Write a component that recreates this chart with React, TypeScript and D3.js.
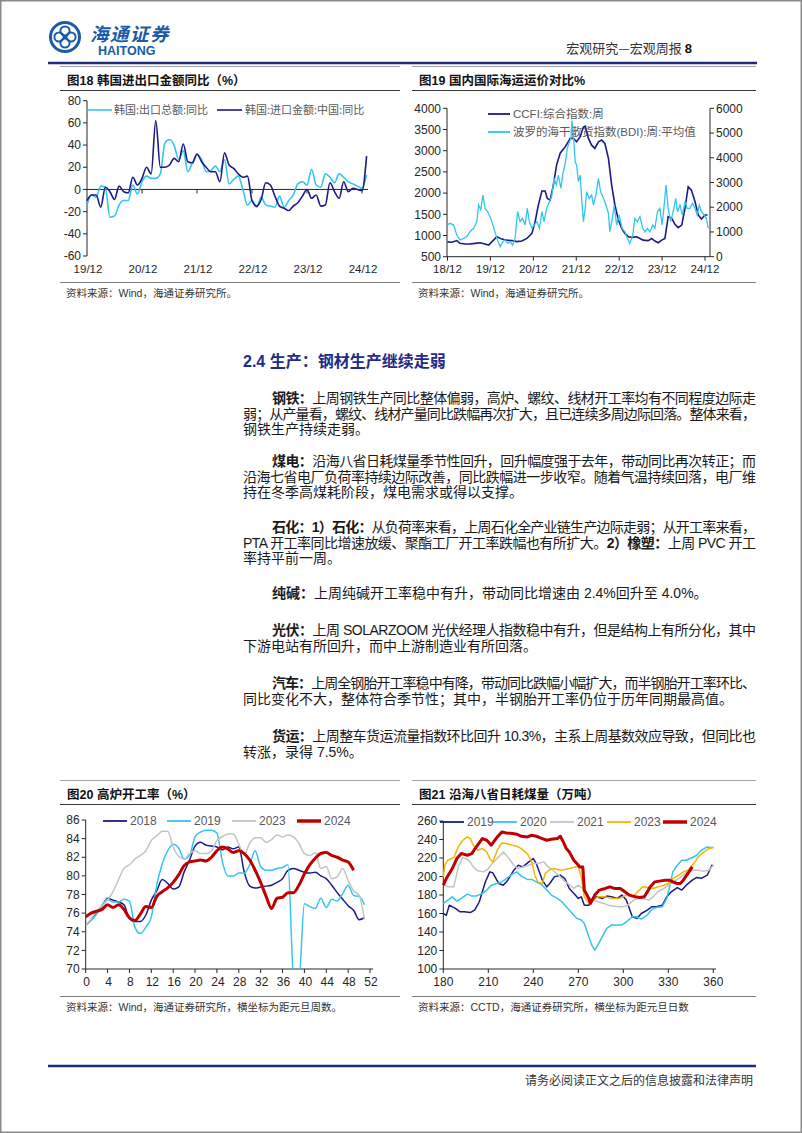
import * as d3 from "d3";

const LAT = "'Liberation Sans', 'Noto Sans CJK SC', sans-serif";
const CJK = "'Noto Sans CJK SC', sans-serif";
const AX = "#262626";
const LBL = "#262626";
const NAVY = "#1c1a86";
const CYAN = "#33c5f0";
const GRAY = "#c4c4c4";
const RED = "#c00000";
const GOLD = "#f7b500";
const BLUE_CORP = "#1a5aa8";

// ---- 图18 韩国进出口金额同比 (monthly, from 2019-12)
const krTicks = ["19/12", "20/12", "21/12", "22/12", "23/12", "24/12"];
const krExportYoy = [
  -14, -5, -7, 3, 2, -25, -24, -14, -10, -10,
  4, -4, 7, 12, 10, 10, 14, 42, 45, 40,
  27, 35, 16, 24, 31, 27, 16, 17, 21, 16,
  27, 5, 9, 12, 0, -14, -10, -16, -7, -14,
  -15, -16, -6, -16, -10, -5, 5, 7, 4, 18,
  4, 2, 14, 11, 6, 14, 11, 7, 5, 3,
  1, 13,
];
const krImportChinaYoy = [
  -10, -5, -5, -16, 2, -2, -9, 3, -2, -3,
  11, 4, 10, 20, 14, 62, 20, 20, 22, 28,
  25, 41, 25, 24, 32, 25, 20, 16, 16, 7,
  33, 22, 19, 14, 11, 12, -10, -15, -9, 6,
  4, -6, -15, -17, -19, -15, -12, -6, 0, -8,
  -5, -15, -14, 6, -2, -8, 7, -2, 1, 0,
  -1, 30,
];

// ---- 图19 国内国际海运运价 ([months since 2018-12, value])
const freightTicks = ["18/12", "19/12", "20/12", "21/12", "22/12", "23/12", "24/12"];
const ccfi: [number, number][] = [
  [0, 850], [1.2, 840], [2.6, 880], [3.5, 815], [4.9, 800], [6.3, 800], [7.7, 815], [9.1, 830],
  [10.5, 800], [11.5, 775], [12.4, 850], [13.8, 970], [15.2, 915], [16.6, 890], [18, 880],
  [19.4, 855], [20.8, 870], [22.2, 930], [23.6, 1050], [24.5, 1325], [25.4, 1720], [26.4, 2050],
  [27.3, 2050], [27.9, 1875], [28.7, 1835], [29.6, 2190], [30.5, 2660], [31.5, 2940], [32.6, 3055],
  [33.5, 3170], [34.3, 3290], [35.2, 3290], [36.1, 3210], [37.1, 3330], [38, 3560], [38.5, 3580],
  [39.4, 3290], [40.3, 3130], [41.2, 3055], [42.2, 3210], [43.1, 3250], [44, 3170], [45, 2820],
  [45.9, 2190], [46.8, 1720], [47.8, 1365], [48.7, 1170], [49.6, 1050], [50.6, 970], [51.5, 955],
  [52.9, 970], [53.8, 930], [54.7, 890], [56.1, 880], [57.1, 930], [58, 870], [58.9, 830],
  [59.9, 890], [60.8, 930], [61.7, 1445], [62.7, 1405], [63.6, 1265], [64.5, 1185], [65.5, 1245],
  [66.4, 1640], [67.3, 2150], [68.2, 2070], [69.2, 1800], [70.1, 1485], [71, 1390], [72, 1485],
  [72.7, 1485],
];
const bdi: [number, number][] = [
  [0, 1300], [0.7, 1350], [1.7, 1280], [2.6, 875], [3.5, 675], [4.5, 740], [5.4, 810], [6.3, 1010],
  [7.3, 1150], [8.2, 1415], [8.7, 2090], [9.3, 1890], [9.9, 2490], [10.5, 1955], [11.2, 1820],
  [11.9, 1620], [12.7, 1280], [13.4, 945], [14, 675], [14.7, 405], [15.5, 605], [16.1, 675],
  [16.9, 540], [17.5, 605], [18.2, 470], [18.9, 740], [19.6, 1820], [20.3, 1415], [21, 1550],
  [21.7, 1280], [22.3, 1955], [22.9, 1415], [23.6, 1150], [24.2, 1280], [25, 1415], [25.7, 1150],
  [26.4, 1820], [27, 1415], [27.7, 1955], [28.5, 2225], [29.1, 2425], [29.8, 3170], [30.4, 2900],
  [31, 3300], [31.7, 2765], [32.2, 3300], [32.9, 3775], [33.5, 4380], [34.1, 4650], [34.5, 4785],
  [34.8, 5500], [35.2, 4920], [35.7, 3840], [36.1, 3710], [36.6, 3035], [37.1, 3300], [37.5, 2360],
  [38, 1415], [38.5, 1955], [38.9, 2630], [39.6, 2360], [40.3, 2490], [40.8, 2090], [41.5, 2490],
  [42.2, 3170], [42.8, 2630], [43.6, 2360], [44.3, 2090], [45, 1750], [45.4, 1010], [46.1, 1550],
  [46.6, 2090], [47.3, 1280], [48, 1685], [48.8, 1150], [49.6, 1010], [50.3, 740], [51, 540],
  [51.8, 875], [52.4, 1550], [53.1, 1415], [53.8, 1620], [54.6, 1150], [55.2, 1010], [55.9, 1150],
  [56.6, 1010], [57.4, 1280], [58, 1150], [58.7, 1820], [59.4, 1955], [60, 1280], [60.5, 1955],
  [61.1, 2900], [61.7, 1955], [62.4, 1415], [63.1, 1820], [63.8, 2360], [64.3, 1820], [65, 2090],
  [65.7, 1685], [66.4, 2225], [67, 1955], [67.8, 1955], [68.5, 2160], [69.2, 1955], [69.8, 1685],
  [70.4, 2090], [71, 1820], [71.8, 1685], [72.4, 1550], [72.9, 1150],
];

// ---- 图20 高炉开工率 (by week of year)
const weekTicks = [0, 4, 8, 12, 16, 20, 24, 28, 32, 36, 40, 44, 48, 52];
const furnace2018 = [
  74.7, 75.3, 76.1, 76.8, 77.6, 77.4, 77.2, 76.9, 75.4, 75.1,
  75.1, 75.8, 77.4, 78.4, 79.6, 79.2, 78.6, 78.8, 80.4, 81.7,
  83.2, 83.6, 83.3, 83.2, 83.1, 82.8, 83.1, 82.9, 83.1, 80.4,
  78.9, 78.7, 78.8, 78.9, 79.0, 79.3, 79.7, 80.6, 80.8, 80.6,
  80.4, 80.3, 80.4, 80.0, 79.7, 79.0, 78.2, 77.5, 76.8, 76.3,
  75.3, 75.5,
];
const furnace2019 = [
  74.7, 75.2, 75.9, 76.9, 77.5, 77.2, 77.2, 77.5, 77.3, 74.5,
  73.8, 74.5, 75.6, 79.0, 81.3, 82.7, 83.4, 83.0, 81.8, 82.2,
  84.2, 84.7, 84.9, 84.9, 84.6, 81.5, 80.0, 80.0, 80.3, 80.3,
  81.2, 82.7, 81.0, 80.6, 80.6, 80.8, 80.9, 81.2, 69.5, 69.0,
  77.0, 76.7, 76.5, 77.6, 76.6, 77.5, 77.3, 78.1, 79.0, 77.9,
  77.8, 76.9,
];
const furnace2023 = [
  74.7, 75.4, 76.2, 76.8, 77.4, 78.3, 79.6, 80.8, 81.2, 81.8,
  82.2, 82.7, 83.8, 84.3, 84.8, 84.8, 83.1, 82.1, 81.8, 82.4,
  82.7, 82.4, 82.4, 82.7, 83.8, 84.2, 84.5, 84.5, 83.4, 82.3,
  83.5, 84.1, 84.1, 83.6, 83.9, 84.4, 84.2, 84.4, 84.2, 83.5,
  82.4, 82.2, 82.5, 80.8, 81.0, 79.7, 79.9, 80.8, 79.5, 78.4,
  77.9, 75.3,
];
const furnace2024 = [
  75.6, 76.0, 76.2, 76.4, 76.9, 76.6, 76.9, 76.4, 75.5, 75.2,
  75.9, 76.7, 76.6, 77.8, 78.3, 78.7, 79.3, 80.1, 81.1, 81.5,
  81.6, 81.7, 81.6, 82.0, 82.7, 83.1, 82.9, 82.5, 82.7, 82.4,
  81.7, 80.6, 79.3, 77.8, 76.5, 77.6, 77.7, 78.2, 78.2, 79.0,
  80.2, 81.2, 81.9, 82.4, 82.5, 82.2, 82.0, 81.7, 81.5, 80.6,
];

// ---- 图21 沿海八省日耗煤量 ([day of year, 万吨])
const dayTicks = [180, 210, 240, 270, 300, 330, 360];
const coal2019: [number, number][] = [
  [180, 160], [182, 158], [184, 169], [188, 165.5], [191, 162], [194, 162], [198, 161], [201, 164],
  [204, 172.7], [208, 194], [211, 205], [213, 204], [217, 192.4], [220, 190.6], [223, 196],
  [227, 206.8], [230, 212.2], [233, 210.4], [237, 215.8], [240, 219.4], [242, 214], [246, 196],
  [249, 188.8], [251, 192.4], [254, 199.6], [258, 201.4], [261, 197.8], [264, 187], [268, 180],
  [270, 176.3], [272, 178], [274, 169], [277, 169], [279, 172.7], [282, 178], [286, 176.3],
  [289, 178.8], [292, 178], [296, 176.3], [299, 179.9], [302, 174.5], [306, 156.5], [309, 154.7],
  [312, 160], [316, 163.7], [319, 167.3], [322, 167.3], [326, 169], [329, 178], [332, 183.5],
  [336, 188], [339, 185.3], [342, 190.6], [346, 196], [349, 199], [352, 198], [356, 201.4],
  [359, 212.2], [360, 211.5],
];
const coal2020: [number, number][] = [
  [180, 170.9], [183, 174.5], [186, 178], [189, 173.4], [192, 176.3], [196, 181], [199, 178.8],
  [202, 178.8], [206, 181.7], [209, 185.3], [212, 190.6], [216, 192.4], [219, 194.2], [222, 197.8],
  [226, 202.5], [229, 205], [232, 200.4], [236, 196.8], [239, 196.8], [242, 194.2], [246, 190.6],
  [249, 185.3], [252, 179.9], [256, 176.3], [259, 172.7], [262, 167.3], [266, 160], [269, 154.7],
  [272, 152.9], [274, 149.3], [277, 134.9], [279, 125.9], [281, 120.5], [283, 125.9], [286, 134.9],
  [289, 143.9], [292, 147.5], [296, 147.5], [299, 147.5], [302, 151], [306, 156.5], [309, 156.5],
  [312, 154], [316, 158.3], [319, 164.4], [322, 166.5], [326, 167.3], [329, 176.3], [331, 190],
  [333, 205], [336, 212.2], [339, 217.6], [342, 217.6], [346, 220.5], [349, 223], [352, 228.4],
  [356, 232], [358, 231.3], [360, 231.3],
];
const coal2021: [number, number][] = [
  [180, 192.4], [183, 188.8], [187, 188.8], [190, 210.4], [193, 220.5], [197, 217.6], [200, 210.4],
  [203, 206.1], [207, 205], [210, 208.6], [213, 214.7], [217, 221.2], [220, 226.6], [223, 221.2],
  [227, 212.2], [230, 208.6], [233, 210.4], [237, 212.2], [240, 214], [243, 214], [247, 215.8],
  [250, 210.4], [253, 206.8], [257, 201.4], [260, 196], [263, 192.4], [267, 187.1], [270, 190.6],
  [273, 187.1], [277, 178], [280, 174.5], [283, 172.7], [287, 170.9], [290, 169], [293, 168],
  [297, 167.3], [300, 167.3], [303, 169], [307, 174.5], [310, 176.3], [313, 176.3], [317, 174.5],
  [320, 178], [323, 183.5], [327, 187], [330, 190.6], [333, 194.2], [337, 197.8], [340, 201.4],
  [343, 205], [347, 206.8], [350, 206.8], [353, 205.8], [357, 206.8], [360, 212.2],
];
const coal2023: [number, number][] = [
  [180, 199.6], [181, 212], [183, 217.6], [187, 220.5], [190, 232], [193, 239.2], [196, 242.8],
  [198, 241], [200, 233.8], [203, 228.4], [206, 230.2], [209, 226.6], [211, 219.4], [213, 215.8],
  [216, 228.4], [219, 236.3], [222, 235.6], [226, 233.8], [229, 232.7], [232, 230.2], [236, 224.8],
  [239, 215.8], [241, 201.4], [243, 194.2], [246, 192.4], [248, 203.2], [251, 207.6], [254, 208.6],
  [258, 206.8], [261, 207.6], [264, 208.6], [268, 210.4], [270, 210.4], [272, 199.6], [274, 178],
  [277, 170.9], [280, 174.5], [283, 178], [287, 178], [290, 177.3], [293, 176.3], [297, 176.3],
  [300, 178], [303, 181], [307, 178.8], [310, 184.5], [313, 188.8], [317, 188], [320, 187.1],
  [323, 188.8], [327, 190.6], [330, 192.4], [333, 197.8], [337, 201.4], [340, 205], [343, 206.8],
  [347, 214], [350, 221.2], [353, 225.5], [357, 230.2], [360, 231.3],
];
const coal2024: [number, number][] = [
  [180, 190.6], [182, 197.8], [186, 208.6], [189, 219.4], [192, 224.8], [196, 223], [199, 224.8],
  [202, 232], [206, 241], [209, 239.2], [212, 233.8], [216, 242.8], [219, 248.2], [222, 247.1],
  [226, 246.4], [229, 245.7], [232, 243.5], [236, 242.8], [239, 244.6], [242, 243.5], [246, 241],
  [249, 239.2], [252, 240.3], [256, 241], [258, 243.5], [260, 237.4], [262, 230.2], [264, 226.6],
  [267, 217.6], [269, 214], [271, 210.4], [273, 210.4], [274, 185.3], [277, 176.3], [278, 170.9],
  [281, 179.9], [284, 185.3], [288, 187.1], [291, 188.8], [294, 187.1], [298, 187.1], [301, 183.5],
  [304, 179.9], [308, 178.1], [311, 177.3], [314, 178.1], [318, 188.8], [321, 194.2], [324, 195],
  [328, 196], [331, 196], [333, 194.2], [336, 192.4], [338, 192.4], [340, 196], [343, 203.2],
  [346, 210.4],
];

type Seg = string | { b: string };
const paragraphs: { y: number; lines: Seg[][] }[] = [
  { y: 398, lines: [
    [{ b: "钢铁：" }, "上周钢铁生产同比整体偏弱，高炉、螺纹、线材开工率均有不同程度边际走"],
    ["弱；从产量看，螺纹、线材产量同比跌幅再次扩大，且已连续多周边际回落。整体来看，"],
    ["钢铁生产持续走弱。"],
  ] },
  { y: 461, lines: [
    [{ b: "煤电：" }, "沿海八省日耗煤量季节性回升，回升幅度强于去年，带动同比再次转正；而"],
    ["沿海七省电厂负荷率持续边际改善，同比跌幅进一步收窄。随着气温持续回落，电厂维"],
    ["持在冬季高煤耗阶段，煤电需求或得以支撑。"],
  ] },
  { y: 527, lines: [
    [{ b: "石化：1）石化：" }, "从负荷率来看，上周石化全产业链生产边际走弱；从开工率来看，"],
    ["PTA 开工率同比增速放缓、聚酯工厂开工率跌幅也有所扩大。", { b: "2）橡塑：" }, "上周 PVC 开工"],
    ["率持平前一周。"],
  ] },
  { y: 593, lines: [
    [{ b: "纯碱：" }, "上周纯碱开工率稳中有升，带动同比增速由 2.4%回升至 4.0%。"],
  ] },
  { y: 630, lines: [
    [{ b: "光伏：" }, "上周 SOLARZOOM 光伏经理人指数稳中有升，但是结构上有所分化，其中"],
    ["下游电站有所回升，而中上游制造业有所回落。"],
  ] },
  { y: 683, lines: [
    [{ b: "汽车：" }, "上周全钢胎开工率稳中有降，带动同比跌幅小幅扩大，而半钢胎开工率环比、"],
    ["同比变化不大，整体符合季节性；其中，半钢胎开工率仍位于历年同期最高值。"],
  ] },
  { y: 736, lines: [
    [{ b: "货运：" }, "上周整车货运流量指数环比回升 10.3%，主系上周基数效应导致，但同比也"],
    ["转涨，录得 7.5%。"],
  ] },
];

const LINE_STEP = 15.5;
const TEXT_X0 = 243;
const TEXT_X1 = 756;
const INDENT = 29;

function Frame({ x0, x1, top, title, source }: { x0: number; x1: number; top: number; title: string; source: string }) {
  return (
    <g>
      <line x1={x0} x2={x1} y1={top + 0.5} y2={top + 0.5} stroke="#a0a0a0" strokeWidth={1} />
      <text x={x0 + 7} y={top + 18.5} fontFamily={LAT} fontWeight="bold" fontSize={12.5} fill="#111">{title}</text>
      <line x1={x0} x2={x1} y1={top + 24.5} y2={top + 24.5} stroke="#3a3a3a" strokeWidth={1} />
      <line x1={x0} x2={x1} y1={top + 216.5} y2={top + 216.5} stroke="#808080" strokeWidth={1} />
      <text x={x0 + 6} y={top + 231} fontFamily={LAT} fontSize={10.5} fill="#333">{source}</text>
    </g>
  );
}

function YAxis({ scale, ticks, x, side }: { scale: d3.ScaleLinear<number, number>; ticks: number[]; x: number; side: "left" | "right" }) {
  const [r0, r1] = scale.range();
  const dir = side === "left" ? -1 : 1;
  return (
    <g>
      <line x1={x} x2={x} y1={r0} y2={r1} stroke={AX} strokeWidth={1} />
      {ticks.map((t) => (
        <g key={t}>
          <line x1={x} x2={x + dir * 4} y1={scale(t)} y2={scale(t)} stroke={AX} strokeWidth={1} />
          <text x={x + dir * 6} y={scale(t) + 4.2} textAnchor={side === "left" ? "end" : "start"}
            fontFamily={LAT} fontSize={12} fill={LBL}>{t}</text>
        </g>
      ))}
    </g>
  );
}

function KoreaTradeChart() {
  const x = d3.scaleLinear().domain([0, 61]).range([87, 366.6]);
  const y = d3.scaleLinear().domain([-60, 80]).range([256, 100.7]);
  const line = d3.line<number>().x((_, i) => x(i)).y((d) => y(d)).curve(d3.curveMonotoneX);
  const yTicks = d3.range(-60, 81, 20);
  return (
    <g>
      <Frame x0={60} x1={400} top={66} title="图18 韩国进出口金额同比（%）" source="资料来源：Wind，海通证券研究所。" />
      <YAxis scale={y} ticks={yTicks} x={87} side="left" />
      <line x1={87} x2={368} y1={y(0)} y2={y(0)} stroke={AX} strokeWidth={1} />
      {krTicks.map((lab, i) => (
        <g key={lab}>
          {i > 0 && <line x1={x(i * 12)} x2={x(i * 12)} y1={y(0)} y2={y(0) + 4} stroke={AX} />}
          <text x={x(i * 12) + 1} y={273} textAnchor="middle" fontFamily={LAT} fontSize={11.5} fill={LBL}>{lab}</text>
        </g>
      ))}
      <line x1={88} x2={112} y1={110} y2={110} stroke={CYAN} strokeWidth={1.6} />
      <text x={114} y={114} fontFamily={CJK} fontSize={11} fill="#5a5a5a">韩国:出口总额:同比</text>
      <line x1={217} x2={242} y1={110} y2={110} stroke={NAVY} strokeWidth={1.6} />
      <text x={245} y={114} fontFamily={CJK} fontSize={11} fill="#5a5a5a">韩国:进口金额:中国:同比</text>
      <path d={line(krExportYoy) ?? ""} fill="none" stroke={CYAN} strokeWidth={1.6} />
      <path d={line(krImportChinaYoy) ?? ""} fill="none" stroke={NAVY} strokeWidth={1.6} />
    </g>
  );
}

function FreightChart() {
  const x = d3.scaleLinear().domain([0, 72]).range([447.5, 705]);
  const yL = d3.scaleLinear().domain([500, 4000]).range([256.7, 108.3]);
  const yR = d3.scaleLinear().domain([0, 6000]).range([256.7, 108.3]);
  const lineL = d3.line<[number, number]>().x((d) => x(d[0])).y((d) => yL(d[1]));
  const lineR = d3.line<[number, number]>().x((d) => x(d[0])).y((d) => yR(d[1]));
  return (
    <g>
      <Frame x0={412} x1={756} top={66} title="图19 国内国际海运运价对比%" source="资料来源：Wind，海通证券研究所。" />
      <YAxis scale={yL} ticks={d3.range(500, 4001, 500)} x={447} side="left" />
      <YAxis scale={yR} ticks={d3.range(0, 6001, 1000)} x={710} side="right" />
      <line x1={447} x2={710} y1={256.7} y2={256.7} stroke={AX} />
      {freightTicks.map((lab, i) => (
        <g key={lab}>
          <line x1={x(i * 12)} x2={x(i * 12)} y1={256.7} y2={260.7} stroke={AX} />
          <text x={x(i * 12)} y={272.5} textAnchor="middle" fontFamily={LAT} fontSize={11.5} fill={LBL}>{lab}</text>
        </g>
      ))}
      <line x1={488} x2={510} y1={114} y2={114} stroke={NAVY} strokeWidth={1.8} />
      <text x={513} y={118} fontFamily={LAT} fontSize={11.5} fill="#5a5a5a">CCFI:综合指数:周</text>
      <line x1={488} x2={510} y1={132} y2={132} stroke={CYAN} strokeWidth={1.8} />
      <text x={513} y={136} fontFamily={LAT} fontSize={11.5} fill="#5a5a5a">波罗的海干散货指数(BDI):周:平均值</text>
      <path d={lineL(ccfi) ?? ""} fill="none" stroke={NAVY} strokeWidth={1.6} />
      <path d={lineR(bdi) ?? ""} fill="none" stroke={CYAN} strokeWidth={1.3} />
    </g>
  );
}

function LegendItem({ x, y, color, width, label }: { x: number; y: number; color: string; width: number; label: string }) {
  return (
    <g>
      <line x1={x} x2={x + 24} y1={y} y2={y} stroke={color} strokeWidth={width} />
      <text x={x + 27} y={y + 4.3} fontFamily={LAT} fontSize={12} fill="#595959">{label}</text>
    </g>
  );
}

function FurnaceChart() {
  const x = d3.scaleLinear().domain([0, 52]).range([85.7, 370]);
  const y = d3.scaleLinear().domain([70, 86]).range([969, 820]);
  const line = d3.line<number>().x((_, i) => x(i)).y((d) => y(d)).curve(d3.curveMonotoneX);
  const series = [
    { label: "2018", data: furnace2018, color: NAVY, w: 1.5, lx: 103 },
    { label: "2019", data: furnace2019, color: CYAN, w: 1.5, lx: 167 },
    { label: "2023", data: furnace2023, color: GRAY, w: 1.5, lx: 232 },
    { label: "2024", data: furnace2024, color: RED, w: 3, lx: 297 },
  ];
  return (
    <g>
      <Frame x0={60} x1={400} top={780} title="图20 高炉开工率（%）" source="资料来源：Wind，海通证券研究所，横坐标为距元旦周数。" />
      <defs>
        <clipPath id="clip20"><rect x={85.7} y={812} width={300} height={157} /></clipPath>
      </defs>
      <YAxis scale={y} ticks={d3.range(70, 87, 2)} x={85.7} side="left" />
      <line x1={85.7} x2={373} y1={969} y2={969} stroke={AX} />
      {weekTicks.map((t) => (
        <g key={t}>
          <line x1={x(t)} x2={x(t)} y1={969} y2={973} stroke={AX} />
          <text x={x(t) + 1} y={986} textAnchor="middle" fontFamily={LAT} fontSize={12} fill={LBL}>{t}</text>
        </g>
      ))}
      {series.map((s) => (
        <LegendItem key={s.label} x={s.lx} y={821} color={s.color} width={s.w === 3 ? 3.5 : 1.8} label={s.label} />
      ))}
      <g clipPath="url(#clip20)">
        {series.map((s) => (
          <path key={s.label} d={line(s.data) ?? ""} fill="none" stroke={s.color} strokeWidth={s.w} />
        ))}
      </g>
    </g>
  );
}

function CoalChart() {
  const x = d3.scaleLinear().domain([180, 360]).range([443.3, 713.3]);
  const y = d3.scaleLinear().domain([100, 260]).range([969, 821]);
  const line = d3.line<[number, number]>().x((d) => x(d[0])).y((d) => y(d[1]));
  const series = [
    { label: "2019", data: coal2019, color: NAVY, w: 1.5, lx: 440 },
    { label: "2020", data: coal2020, color: CYAN, w: 1.5, lx: 493 },
    { label: "2021", data: coal2021, color: GRAY, w: 1.5, lx: 550 },
    { label: "2023", data: coal2023, color: GOLD, w: 1.5, lx: 607 },
    { label: "2024", data: coal2024, color: RED, w: 3, lx: 663 },
  ];
  return (
    <g>
      <Frame x0={412} x1={756} top={780} title="图21 沿海八省日耗煤量（万吨）" source="资料来源：CCTD，海通证券研究所，横坐标为距元旦日数" />
      <YAxis scale={y} ticks={d3.range(100, 261, 20)} x={443.3} side="left" />
      <line x1={443.3} x2={716} y1={969} y2={969} stroke={AX} />
      {dayTicks.map((t) => (
        <g key={t}>
          <line x1={x(t)} x2={x(t)} y1={969} y2={973} stroke={AX} />
          <text x={x(t)} y={986} textAnchor="middle" fontFamily={LAT} fontSize={12} fill={LBL}>{t}</text>
        </g>
      ))}
      {series.map((s) => (
        <LegendItem key={s.label} x={s.lx} y={822} color={s.color} width={s.w === 3 ? 3.5 : 1.8} label={s.label} />
      ))}
      {series.map((s) => (
        <path key={s.label} d={line(s.data) ?? ""} fill="none" stroke={s.color} strokeWidth={s.w} strokeLinejoin="round" />
      ))}
    </g>
  );
}

function Logo() {
  return (
    <g>
      <circle cx={65} cy={37} r={14.5} fill="none" stroke={BLUE_CORP} strokeWidth={3} />
      {[[0, -6], [6, 0], [0, 6], [-6, 0]].map(([dx, dy], i) => (
        <circle key={i} cx={65 + dx} cy={37 + dy} r={4.6} fill="none" stroke={BLUE_CORP} strokeWidth={2} />
      ))}
      <circle cx={65} cy={37} r={1.6} fill={BLUE_CORP} />
      <text x={90} y={41} fontFamily={CJK} fontSize={18.5} fontStyle="italic" fontWeight="bold" fill={BLUE_CORP} letterSpacing={1.5}>海通证券</text>
      <text x={98} y={55} fontFamily="'Liberation Sans', sans-serif" fontSize={12.5} fontWeight="bold" fill={BLUE_CORP}>HAITONG</text>
    </g>
  );
}

function Body() {
  return (
    <g fontFamily={LAT} fontSize={14} fill="#1a1a1a">
      <text x={TEXT_X0} y={366.5} fontSize={16} fontWeight="bold" fill="#1f2a8a">2.4 生产：钢材生产继续走弱</text>
      {paragraphs.map((p, pi) =>
        p.lines.map((segs, li) => {
          const x0 = li === 0 ? TEXT_X0 + INDENT : TEXT_X0;
          const justify = li < p.lines.length - 1;
          return (
            <text key={`${pi}-${li}`} x={x0} y={p.y + li * LINE_STEP + 5}
              {...(justify ? { textLength: TEXT_X1 - x0, lengthAdjust: "spacing" } : {})}>
              {segs.map((s, si) =>
                typeof s === "string" ? <tspan key={si}>{s}</tspan> : <tspan key={si} fontWeight="bold">{s.b}</tspan>
              )}
            </text>
          );
        })
      )}
    </g>
  );
}

export default function App() {
  return (
    <div style={{ position: "absolute", left: 0, top: 0 }}>
      <svg width={802} height={1133} viewBox="0 0 802 1133" style={{ display: "block", background: "#fff" }}>
        <rect x={0.75} y={0.75} width={800.5} height={1131.5} fill="#fff" stroke="#8a8a8a" strokeWidth={1.5} />
        <Logo />
        <text x={692} y={53} textAnchor="end" fontFamily={CJK} fontSize={13} fill="#333">
          宏观研究—宏观周报 <tspan fontFamily="'Liberation Sans', sans-serif" fontWeight="bold" fill="#111">8</tspan>
        </text>
        <line x1={48} x2={757} y1={63} y2={63} stroke="#202a7a" strokeWidth={2.5} />
        <KoreaTradeChart />
        <FreightChart />
        <Body />
        <FurnaceChart />
        <CoalChart />
        <line x1={48} x2={756} y1={1066} y2={1066} stroke="#202a7a" strokeWidth={2.5} />
        <text x={753} y={1085} textAnchor="end" fontFamily={CJK} fontSize={12} fill="#333">请务必阅读正文之后的信息披露和法律声明</text>
      </svg>
    </div>
  );
}
